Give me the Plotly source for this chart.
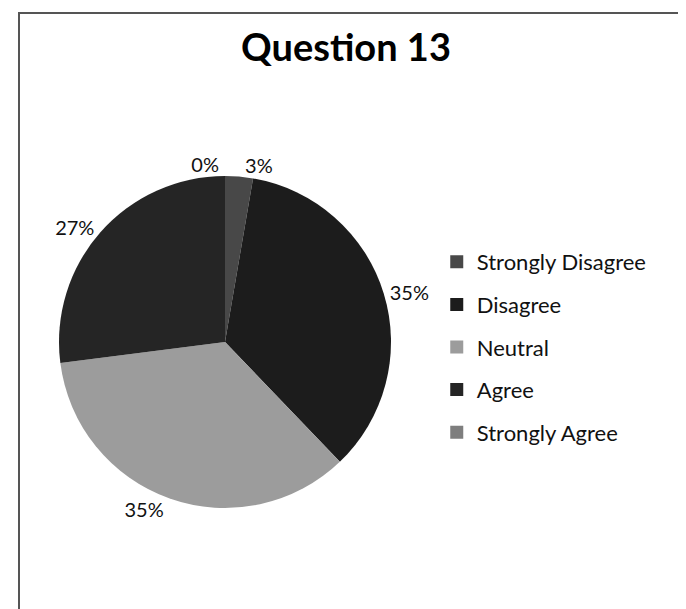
import plotly.graph_objects as go

categories = ["Strongly Disagree", "Disagree", "Neutral", "Agree", "Strongly Agree"]
counts = [1, 13, 13, 10, 0]
colors = ["#484848", "#1c1c1c", "#9c9c9c", "#252525", "#7e7e7e"]
title_text = "Question 13"

W, H = 686, 609
FONT = "Lato, Open Sans, sans-serif"

fig = go.Figure()
fig.add_trace(go.Pie(
    labels=categories, values=counts, sort=False, direction="clockwise", rotation=0,
    marker=dict(colors=colors, line=dict(width=0)),
    textinfo="percent", texttemplate="%{percent:.0%}", textposition="outside",
    outsidetextfont=dict(size=20, color="#111", family=FONT),
    showlegend=False, automargin=False,
    domain=dict(x=[51 / W, 383 / W], y=[1 - 500 / H, 1 - 168 / H]),
))

for c, col in zip(categories, colors):
    fig.add_trace(go.Scatter(
        x=[None], y=[None], mode="markers", name=c, legendgroup=c,
        marker=dict(symbol="square", size=13, color=col),
    ))

fig.update_layout(
    width=W, height=H,
    margin=dict(l=0, r=0, t=0, b=0),
    paper_bgcolor="white", plot_bgcolor="white",
    xaxis=dict(visible=False), yaxis=dict(visible=False),
    title=dict(text="<b>" + title_text + "</b>", x=338 / W, xanchor="center", y=1 - 40 / H, yanchor="middle",
               font=dict(size=38, color="#000", family=FONT)),
    legend=dict(x=0.625, y=1 - 233 / H, xanchor="left", yanchor="top",
                font=dict(size=22, color="#111", family=FONT), tracegroupgap=11,
                itemclick=False, bgcolor="rgba(0,0,0,0)"),
    shapes=[dict(type="rect", xref="paper", yref="paper",
                 x0=11 / W, x1=680 / W, y0=-0.05, y1=1 - 5 / H,
                 line=dict(color="#555", width=2))],
)

fig.write_html("out.html")
